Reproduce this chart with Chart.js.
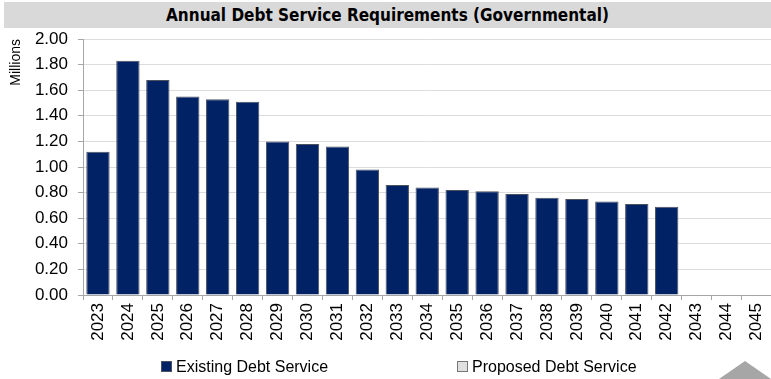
<!DOCTYPE html>
<html>
<head>
<meta charset="utf-8">
<script src="https://cdn.jsdelivr.net/npm/chart.js@4"></script>
<style>
  html, body { margin: 0; padding: 0; background: #fff; overflow: hidden; }
  #wrap { position: relative; width: 771px; height: 379px; overflow: hidden; }
  #title {
    position: absolute; left: 4px; top: 2px; width: 767px; height: 26px;
    background: #d9d9d9; text-align: center; line-height: 26px;
    font-family: "Liberation Sans Narrow", "DejaVu Sans Condensed", "Liberation Sans", sans-serif;
    font-weight: bold; font-size: 17px; color: #000;
  }
  #chartBox { position: absolute; left: 0; top: 0; width: 780px; height: 379px; }
  .legend { position: absolute; top: 358px; font-family: "Liberation Sans", Arial, sans-serif; font-size: 16px; color: #000; white-space: nowrap; }
  .legend span.box { display: inline-block; width: 9px; height: 9px; margin-right: 4px; vertical-align: 0px; }
  #tri {
    position: absolute; left: 719px; top: 361px; width: 0; height: 0;
    border-left: 26px solid transparent; border-right: 26px solid transparent;
    border-bottom: 18px solid #a6a6a6;
  }
</style>
</head>
<body>
<div id="wrap">
  <div id="chartBox"><canvas id="debtChart" width="780" height="379"></canvas></div>
  <div id="title">Annual Debt Service Requirements (Governmental)</div>
  <div class="legend" style="left:161px"><span class="box" style="background:#022266;border:1px solid #4d5260"></span>Existing Debt Service</div>
  <div class="legend" style="left:457px"><span class="box" style="background:#e0e0e0;border:1px solid #777"></span>Proposed Debt Service</div>
  <div id="tri"></div>
</div>
<script>
// values in millions
const years = ['2023', '2024', '2025', '2026', '2027', '2028', '2029', '2030', '2031', '2032', '2033',
               '2034', '2035', '2036', '2037', '2038', '2039', '2040', '2041', '2042', '2043', '2044', '2045'];
const existingDebt = [1.12, 1.83, 1.68, 1.55, 1.53, 1.51, 1.20, 1.18, 1.16, 0.98, 0.86,
                      0.84, 0.82, 0.81, 0.79, 0.76, 0.75, 0.73, 0.71, 0.69, 0, 0, 0];
const proposedDebt = [0, 0, 0, 0, 0, 0, 0, 0, 0, 0, 0, 0, 0, 0, 0, 0, 0, 0, 0, 0, 0, 0, 0];
const yTicks = [0, 0.2, 0.4, 0.6, 0.8, 1.0, 1.2, 1.4, 1.6, 1.8, 2.0];

const axisGray = '#a6a6a6';
const font = { family: '"Liberation Sans", Arial, sans-serif', size: 17 };

const ctx = document.getElementById('debtChart').getContext('2d');
new Chart(ctx, {
    type: 'bar',
    data: {
        labels: years,
        datasets: [{
            label: 'Existing Debt Service',
            data: existingDebt,
            backgroundColor: '#022266',
            borderColor: '#4d5260',
            borderWidth: 1,
            barPercentage: 0.78,
            categoryPercentage: 1
        }, {
            label: 'Proposed Debt Service',
            data: proposedDebt,
            backgroundColor: '#e0e0e0',
            borderColor: '#777777',
            borderWidth: 0,
            barPercentage: 0.78,
            categoryPercentage: 1
        }]
    },
    options: {
        responsive: false,
        animation: false,
        layout: { padding: { top: 39, left: 0, right: 5, bottom: 0 } },
        plugins: {
            legend: { display: false },
            tooltip: { enabled: false }
        },
        scales: {
            x: {
                stacked: true,
                offset: true,
                grid: { display: true, drawOnChartArea: false, offset: true, color: axisGray, tickLength: 5 },
                border: { color: axisGray },
                ticks: { color: '#000', font: font, minRotation: 90, maxRotation: 90, padding: 3, autoSkip: false },
                afterFit: (scale) => { scale.height = 84; }
            },
            y: {
                stacked: true,
                min: 0,
                max: 2,
                afterBuildTicks: (scale) => { scale.ticks = yTicks.map(v => ({ value: v })); },
                grid: { color: '#dcdcdc', tickColor: axisGray, tickLength: 5 },
                border: { color: axisGray },
                ticks: { color: '#000', font: font, padding: 10, callback: v => v.toFixed(2) },
                title: { display: true, text: 'Millions', align: 'end', color: '#000',
                         font: { family: '"Liberation Sans", Arial, sans-serif', size: 14 }, padding: { top: 8, bottom: 0 } },
                afterFit: (scale) => { scale.width = 83; }
            }
        }
    }
});
</script>
</body>
</html>
